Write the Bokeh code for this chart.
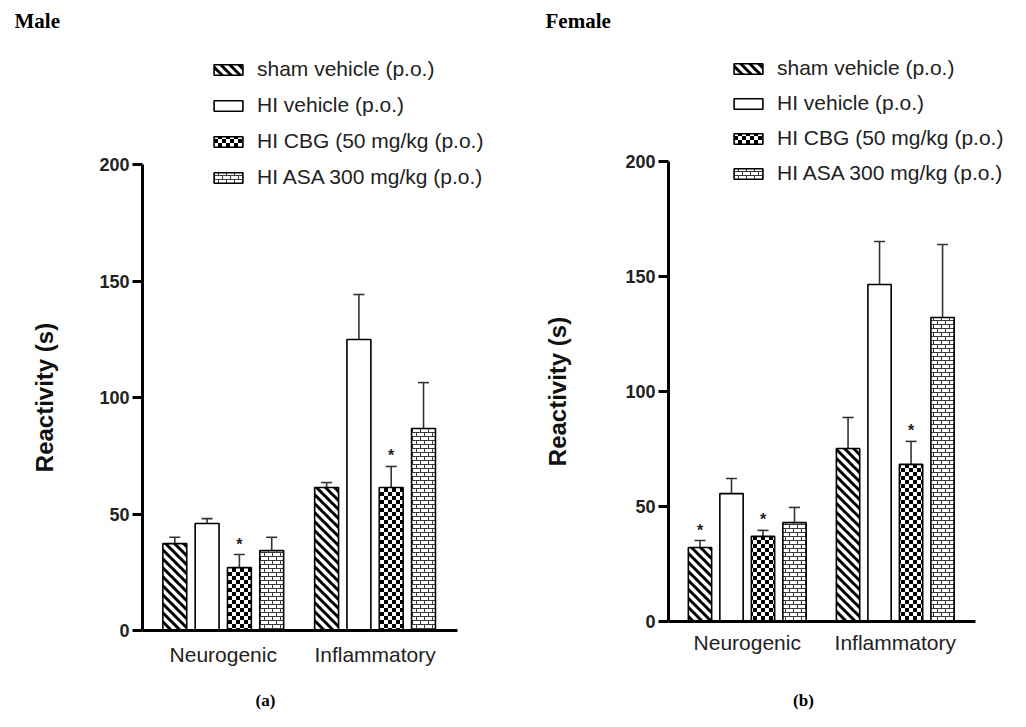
import math
from bokeh.plotting import figure
from bokeh.models import (ColumnDataSource, Legend, LegendItem, Label, FixedTicker,
                          Whisker, TeeHead, CanvasTexture, Range1d)
from bokeh.layouts import row
from bokeh.embed import file_html
from bokeh.resources import INLINE
from bokeh.core.properties import value

# ---------------- data ----------------
categories = ["Neurogenic", "Inflammatory"]
series_names = ["sham vehicle (p.o.)", "HI vehicle (p.o.)",
                "HI CBG (50 mg/kg (p.o.)", "HI ASA 300 mg/kg (p.o.)"]

# Male (a)
male_sham = [37.3, 61.4]
male_sham_err = [2.7, 2.1]
male_hi = [45.9, 124.9]
male_hi_err = [2.1, 19.3]
male_cbg = [27.0, 61.4]
male_cbg_err = [5.6, 9.0]
male_asa = [34.3, 86.7]
male_asa_err = [5.7, 19.7]
male_sig_sham = [0, 0]
male_sig_hi = [0, 0]
male_sig_cbg = [1, 1]
male_sig_asa = [0, 0]

# Female (b)
female_sham = [32.2, 75.2]
female_sham_err = [3.0, 13.5]
female_hi = [55.6, 146.5]
female_hi_err = [6.6, 18.7]
female_cbg = [37.0, 68.3]
female_cbg_err = [2.6, 10.0]
female_asa = [43.0, 132.2]
female_asa_err = [6.6, 31.7]
female_sig_sham = [1, 0]
female_sig_hi = [0, 0]
female_sig_cbg = [1, 1]
female_sig_asa = [0, 0]

y_ticks = [0, 50, 100, 150, 200]
y_label = "Reactivity (s)"

# ---------------- textures (tile size fixed inside the code) ----------------
diag_js = """
const S = 9;
ctx.canvas.width = S; ctx.canvas.height = S;
ctx.clearRect(0, 0, S, S);
ctx.strokeStyle = '#000000';
ctx.lineWidth = 3.0;
ctx.beginPath();
for (let k = -1; k <= 1; k++) {
  ctx.moveTo(k * S - 1, -1);
  ctx.lineTo(k * S + S + 1, S + 1);
}
ctx.stroke();
"""
checker_js = """
const S = 8;
ctx.canvas.width = S; ctx.canvas.height = S;
ctx.clearRect(0, 0, S, S);
ctx.fillStyle = '#000000';
const s = S / 2;
ctx.fillRect(0, 0, s, s);
ctx.fillRect(s, s, s, s);
"""
brick_js = """
const S = 8;
ctx.canvas.width = S; ctx.canvas.height = S;
ctx.clearRect(0, 0, S, S);
ctx.strokeStyle = '#3a3a3a';
ctx.lineWidth = 1;
const h = S / 2;
ctx.beginPath();
ctx.moveTo(0, 0.5); ctx.lineTo(S, 0.5);
ctx.moveTo(0, h + 0.5); ctx.lineTo(S, h + 0.5);
ctx.moveTo(0.5, 0); ctx.lineTo(0.5, h);
ctx.moveTo(h + 0.5, h); ctx.lineTo(h + 0.5, S);
ctx.stroke();
"""

SANS = "Liberation Sans"
SERIF = "Liberation Serif"
W, H = 513, 727


def make_panel(means, errs, sigs, title, letter, ax_x, ax_y0, ax_y200, unit_px,
               legend_x, legend_vy, legend_spacing, xlab_standoff):
    ppu_y = (ax_y0 - ax_y200) / 200.0
    x_start = -ax_x / unit_px
    x_end = (W - ax_x) / unit_px
    y_start = -(H - ax_y0) / ppu_y
    y_end = ax_y0 / ppu_y
    p = figure(width=W, height=H, output_backend="svg", toolbar_location=None,
               x_range=Range1d(x_start, x_end), y_range=Range1d(y_start, y_end),
               min_border=0, min_border_left=0, min_border_right=0,
               min_border_top=0, min_border_bottom=0,
               background_fill_color="white", border_fill_color="white")
    p.outline_line_color = None
    p.grid.visible = False

    n = len(series_names)
    group_gap = 0.7
    styles = [
        dict(hatch_pattern=value("diag"), hatch_scale=9,
             hatch_extra={"diag": CanvasTexture(code=diag_js)}),
        dict(hatch_pattern=" "),
        dict(hatch_pattern=value("checker"), hatch_scale=8,
             hatch_extra={"checker": CanvasTexture(code=checker_js)}),
        dict(hatch_pattern=value("brick"), hatch_scale=8,
             hatch_extra={"brick": CanvasTexture(code=brick_js)}),
    ]
    items = []
    star_x, star_y = [], []
    for i in range(n):
        xs = [1 + i + g * (n + group_gap) for g in range(len(categories))]
        tops = means[i]
        ups = [m + e for m, e in zip(means[i], errs[i])]
        src = ColumnDataSource(dict(x=xs, top=tops, up=ups))
        r = p.vbar(x="x", top="top", width=0.74, bottom=0, source=src,
                   fill_color="white", line_color="black", line_width=1.6,
                   **styles[i])
        w = Whisker(base="x", lower="top", upper="up", source=src,
                    line_color="#333333", line_width=1.6,
                    upper_head=TeeHead(size=11, line_color="#333333", line_width=1.6),
                    lower_head=None)
        p.add_layout(w)
        items.append(LegendItem(label=series_names[i], renderers=[r]))
        for xv, uv, s in zip(xs, ups, sigs[i]):
            if s:
                star_x.append(xv)
                star_y.append(uv)
    p.text(x=star_x, y=star_y, text=["*"] * len(star_x), text_align="center",
           text_baseline="bottom", y_offset=-2, text_font=value(SANS),
           text_font_size="16px", text_font_style="bold", text_color="#222222")

    # axes (pinned at the data origin)
    yax = p.yaxis[0]
    yax.fixed_location = 0
    yax.bounds = (0, 200)
    yax.ticker = FixedTicker(ticks=y_ticks)
    yax.axis_line_width = 3
    yax.axis_line_color = "black"
    yax.major_tick_line_width = 3
    yax.major_tick_out = 10
    yax.major_tick_in = 0
    yax.minor_tick_out = 0
    yax.minor_tick_in = 0
    yax.major_label_text_font = SANS
    yax.major_label_text_font_style = "bold"
    yax.major_label_text_font_size = "18px"
    yax.major_label_text_color = "#222222"
    yax.major_label_standoff = 3

    xax = p.xaxis[0]
    xax.fixed_location = 0
    centers = [1 + (n - 1) / 2 + g * (n + group_gap) for g in range(len(categories))]
    xax.bounds = (0, n * 2 + group_gap + 1.05)
    xax.ticker = FixedTicker(ticks=centers)
    xax.major_label_overrides = {c: lab for c, lab in zip(centers, categories)}
    xax.axis_line_width = 3
    xax.axis_line_color = "black"
    xax.major_tick_out = 0
    xax.major_tick_in = 0
    xax.minor_tick_out = 0
    xax.minor_tick_in = 0
    xax.major_label_text_font = SANS
    xax.major_label_text_font_size = "21px"
    xax.major_label_text_color = "#222222"
    xax.major_label_standoff = xlab_standoff

    # y label
    p.add_layout(Label(x=44, y=100, x_units="screen", y_units="data", text=y_label,
                       angle=math.pi / 2, text_align="center", text_baseline="middle",
                       text_font=SANS, text_font_style="bold", text_font_size="24px",
                       text_color="#111111"))
    # panel title and letter
    p.add_layout(Label(x=title[1], y=H - 20, x_units="screen", y_units="screen",
                       text=title[0], text_align="left", text_baseline="middle",
                       text_font=SERIF, text_font_style="bold", text_font_size="21px",
                       text_color="black"))
    p.add_layout(Label(x=letter[1], y=H - 700, x_units="screen", y_units="screen",
                       text=letter[0], text_align="center", text_baseline="middle",
                       text_font=SERIF, text_font_style="bold", text_font_size="17px",
                       text_color="black"))

    legend = Legend(items=items, location=(legend_x, legend_vy),
                    glyph_width=36, glyph_height=13, label_height=24,
                    spacing=legend_spacing, padding=0, margin=0, label_standoff=11,
                    label_text_font=SANS, label_text_font_size="21px",
                    label_text_color="#222222", border_line_color=None,
                    background_fill_alpha=0)
    p.add_layout(legend, "center")
    return p


male = make_panel(
    [male_sham, male_hi, male_cbg, male_asa],
    [male_sham_err, male_hi_err, male_cbg_err, male_asa_err],
    [male_sig_sham, male_sig_hi, male_sig_cbg, male_sig_asa],
    ("Male", 14), ("(a)", 265),
    ax_x=142, ax_y0=630, ax_y200=164, unit_px=32.3,
    legend_x=210, legend_vy=538, legend_spacing=12, xlab_standoff=12)

female = make_panel(
    [female_sham, female_hi, female_cbg, female_asa],
    [female_sham_err, female_hi_err, female_cbg_err, female_asa_err],
    [female_sig_sham, female_sig_hi, female_sig_cbg, female_sig_asa],
    ("Female", 32), ("(b)", 290),
    ax_x=155, ax_y0=621, ax_y200=161, unit_px=31.5,
    legend_x=217, legend_vy=542, legend_spacing=11, xlab_standoff=9)

layout = row(male, female)
open("out.html", "w").write(file_html(layout, INLINE))
